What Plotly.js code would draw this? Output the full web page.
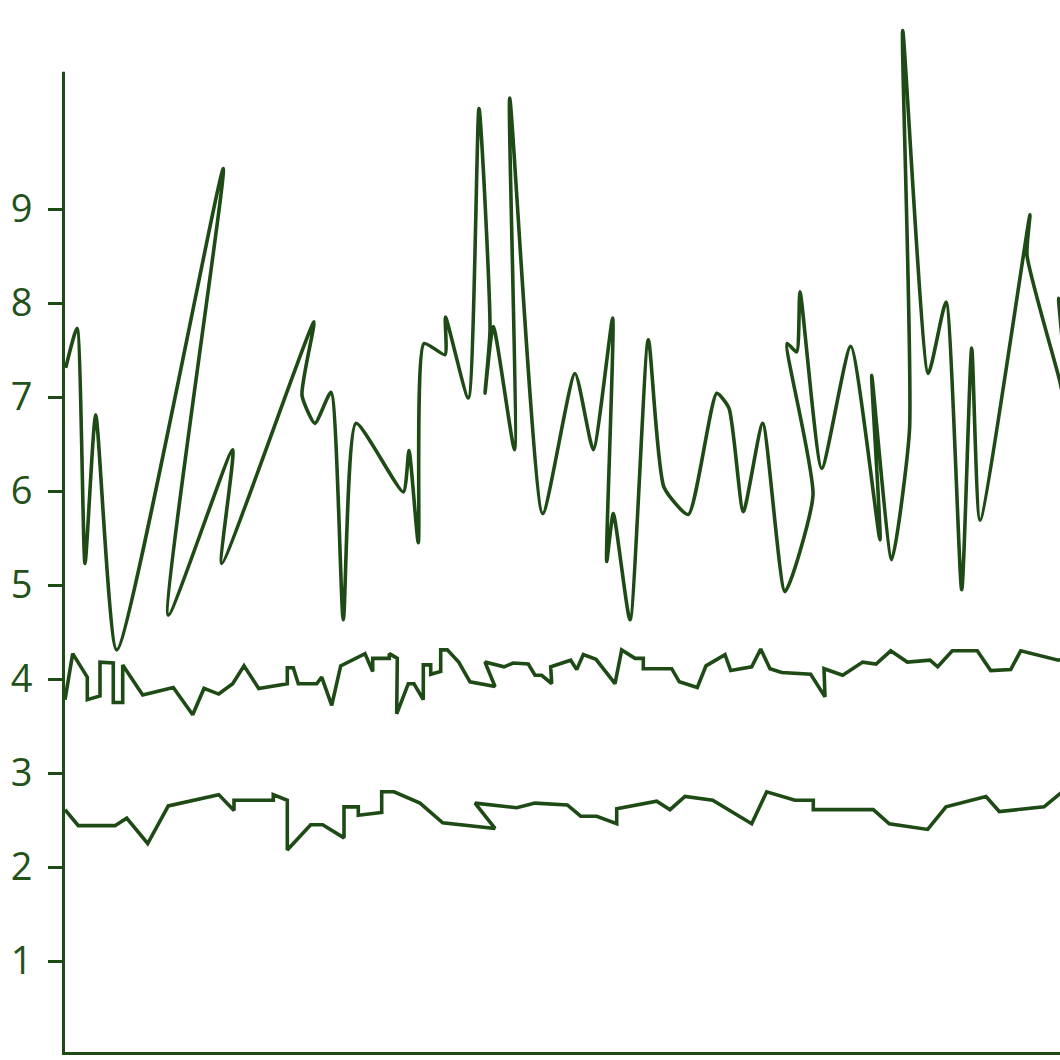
<!DOCTYPE html>
<html><head><meta charset="utf-8">
<script src="https://cdn.plot.ly/plotly-3.0.1.min.js"></script>
<style>html,body{margin:0;padding:0;background:#fff;overflow:hidden}#chart{width:1060px;height:1060px}</style>
</head><body><div id="chart"></div>
<script>
// Upper series (smoothed)
const topX = [0.07,1.2,2.0,3.07,5.17,15.83,10.33,16.77,15.67,24.9,23.7,25.0,26.6,27.83,29.1,33.83,34.4,35.33,35.9,38.0,38.05,40.33,41.4,42.5,42.0,42.83,44.95,44.47,47.77,51.0,52.83,54.77,54.17,54.83,56.5,58.33,59.9,62.33,65.17,66.4,67.83,69.77,72.0,74.8,72.2,73.17,73.5,75.67,78.57,81.5,80.67,82.67,84.45,83.77,86.33,88.1,89.67,90.67,91.5,96.5,96.2,99.5,100.5,99.35,101.5];
const topY = [7.31,7.73,5.23,6.81,4.31,9.43,4.68,6.44,5.23,7.80,7.02,6.72,7.05,4.63,6.72,5.99,6.43,5.45,7.57,7.45,7.85,6.99,10.07,7.71,7.04,7.75,6.44,10.18,5.76,7.25,6.44,7.84,5.25,5.76,4.63,7.61,6.04,5.75,7.04,6.88,5.78,6.72,4.93,5.96,7.57,7.48,8.12,6.24,7.54,5.48,7.23,5.27,6.65,10.90,7.25,8.01,4.95,7.52,5.69,8.94,8.51,7.16,6.65,8.05,6.22];

// Middle series
const midX = [0.0,0.77,2.23,2.23,3.5,3.5,4.83,4.83,5.77,5.77,7.77,10.83,12.77,13.9,15.37,16.77,17.9,19.37,22.23,22.23,22.83,23.33,25.17,25.67,26.67,27.57,30.0,30.77,30.77,32.43,32.43,33.23,33.17,34.33,34.9,35.83,35.83,36.57,36.57,37.57,37.57,38.23,39.37,40.5,43.0,42.0,43.9,44.83,46.33,47.0,47.67,48.67,48.57,50.57,51.17,51.83,53.1,55.0,55.67,57.0,57.83,57.83,60.67,61.43,63.23,64.1,66.0,66.57,68.67,69.57,70.5,71.67,74.57,76.0,75.9,77.77,79.77,81.1,82.57,84.23,86.5,87.27,88.73,91.23,92.57,94.57,95.57,99.33,101.0];
const midY = [3.78,4.27,4.02,3.78,3.82,4.18,4.17,3.75,3.75,4.15,3.83,3.91,3.62,3.90,3.84,3.95,4.14,3.90,3.95,4.12,4.12,3.95,3.95,4.02,3.72,4.14,4.27,4.08,4.22,4.22,4.27,4.22,3.63,3.95,3.95,3.78,4.15,4.15,4.05,4.08,4.31,4.31,4.18,3.97,3.92,4.18,4.13,4.17,4.16,4.04,4.04,3.95,4.13,4.20,4.10,4.26,4.21,3.95,4.31,4.22,4.22,4.11,4.11,3.97,3.91,4.14,4.26,4.09,4.13,4.32,4.11,4.07,4.05,3.81,4.11,4.04,4.18,4.16,4.30,4.18,4.20,4.13,4.30,4.30,4.09,4.10,4.30,4.20,4.25];

// Lower series
const botX = [0.0,1.33,5.0,6.17,8.27,10.33,15.37,16.9,16.9,20.83,20.83,22.23,22.23,24.57,25.77,27.9,27.9,29.33,29.33,31.67,31.67,32.9,35.5,37.77,43.0,41.0,45.17,47.0,50.23,51.57,53.17,55.17,55.17,59.17,60.5,62.0,64.77,68.67,70.17,73.0,74.83,74.83,80.83,82.43,86.27,88.1,92.1,93.43,97.9,99.5,101.5];
const botY = [2.61,2.44,2.44,2.52,2.25,2.65,2.77,2.60,2.71,2.71,2.77,2.71,2.18,2.45,2.45,2.31,2.64,2.64,2.55,2.58,2.80,2.80,2.68,2.47,2.41,2.68,2.63,2.68,2.66,2.54,2.54,2.46,2.62,2.70,2.61,2.75,2.71,2.46,2.80,2.71,2.71,2.61,2.61,2.46,2.40,2.64,2.75,2.59,2.64,2.78,2.93];

const yTicks = [1,2,3,4,5,6,7,8,9];

const green = '#1e4a16';
const lineStyle = {color: green, width: 3.6, simplify: false};

const traces = [
  {x: topX, y: topY, mode: 'lines', line: Object.assign({}, lineStyle, {shape: 'spline', smoothing: 0.55}), hoverinfo: 'none'},
  {x: midX, y: midY, mode: 'lines', line: lineStyle, hoverinfo: 'none'},
  {x: botX, y: botY, mode: 'lines', line: lineStyle, hoverinfo: 'none'}
];

const layout = {
  width: 1060, height: 1060,
  margin: {l: 65, r: 0, t: 20, b: 8, pad: 0},
  showlegend: false,
  paper_bgcolor: '#ffffff', plot_bgcolor: '#ffffff',
  xaxis: {range: [0, 99.5], showgrid: false, zeroline: false, showticklabels: false, ticks: '',
          showline: true, linecolor: green, linewidth: 3, fixedrange: true},
  yaxis: {range: [0.032, 11.011], tickmode: 'array', tickvals: yTicks, ticktext: yTicks.map(String),
          ticks: 'outside', ticklen: 16, tickwidth: 3, tickcolor: green, ticklabelstandoff: 8,
          showgrid: false, zeroline: false, showline: false, fixedrange: true,
          tickfont: {family: 'Open Sans', size: 38, color: '#22521a'}},
  shapes: [{type: 'line', xref: 'paper', yref: 'paper', x0: -0.0015, x1: -0.0015, y0: -0.0029, y1: 0.9499,
            line: {color: green, width: 3}}]
};

Plotly.newPlot('chart', traces, layout, {staticPlot: true, displayModeBar: false});
</script>
</body></html>
